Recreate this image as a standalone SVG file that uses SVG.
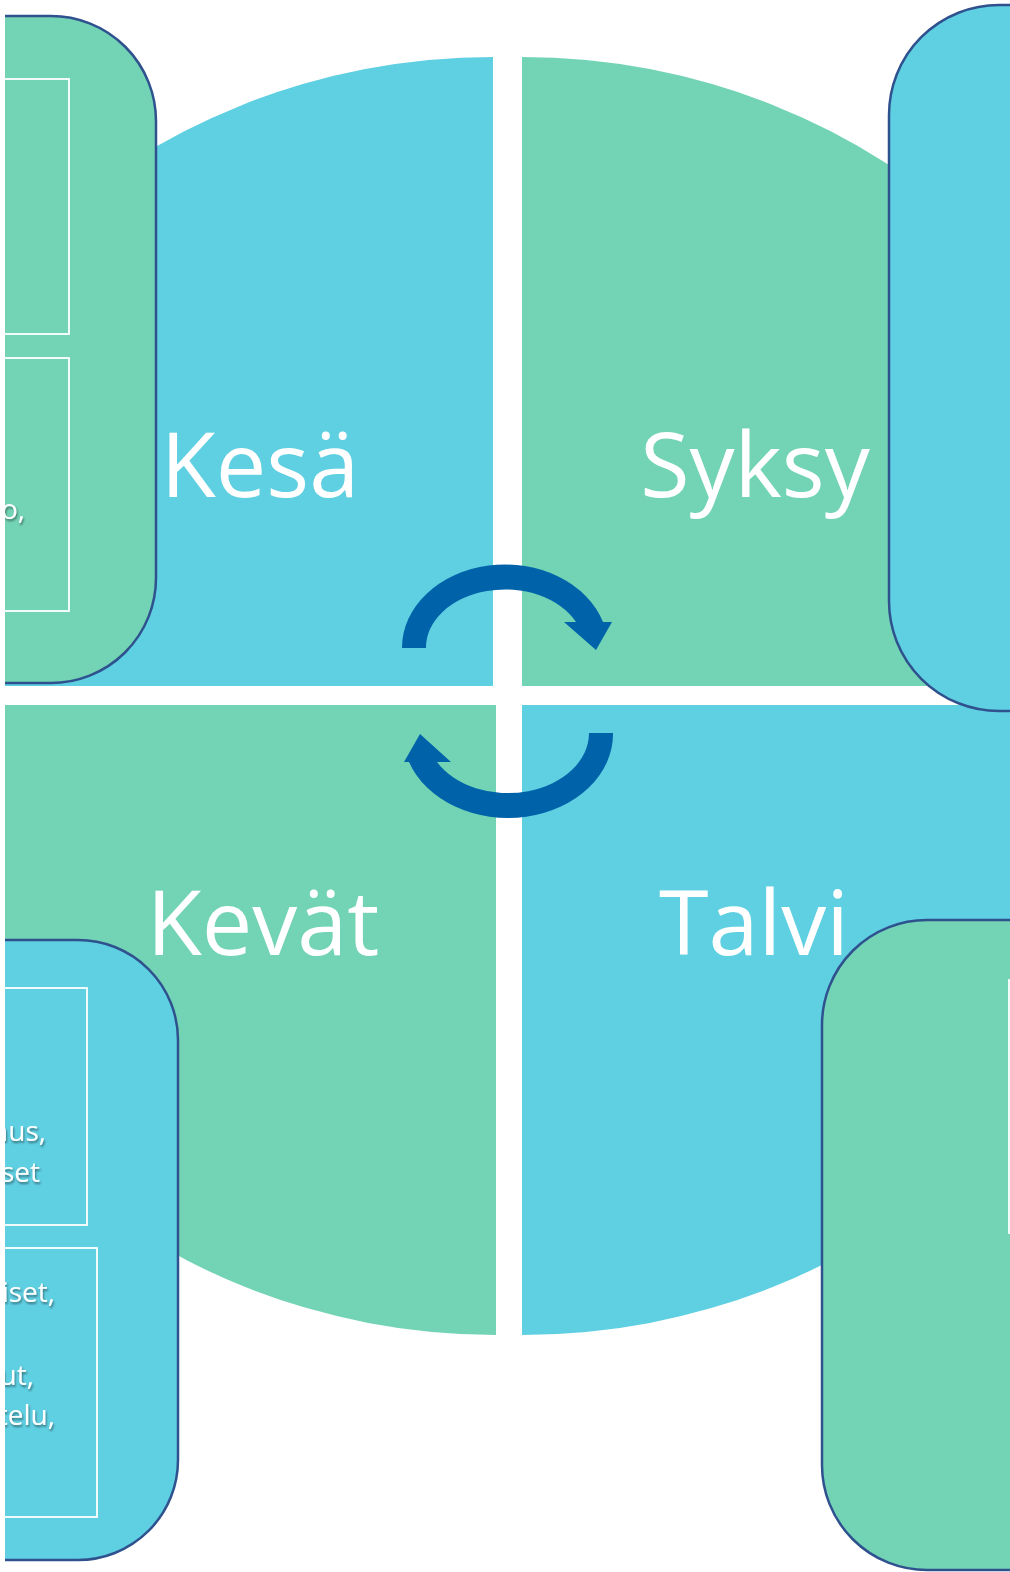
<svg xmlns="http://www.w3.org/2000/svg" width="1010" height="1572" viewBox="0 0 1010 1572">
  <defs>
    <style>
      .blue { fill: #5FCFE2; }
      .green { fill: #72D3B5; }
      .box { stroke: #2F528F; stroke-width: 2.5; }
      .inner { fill: none; stroke: #FFFFFF; stroke-width: 1.8; }
      .season { font-family: "Open Sans", "DejaVu Sans", sans-serif; font-size: 90px; fill: #FFFFFF; text-anchor: middle; }
      .small { font-family: "Open Sans", "DejaVu Sans", sans-serif; font-size: 28px; fill: #FFFFFF; text-anchor: end; filter: url(#shadow); }
      .arrow { fill: #0062A9; }
    </style>
    <filter id="shadow" x="-20%" y="-20%" width="140%" height="160%">
      <feDropShadow dx="1" dy="2" stdDeviation="1" flood-color="#000000" flood-opacity="0.45"/>
    </filter>
  </defs>
  <rect x="0" y="0" width="1010" height="1572" fill="#FFFFFF"/>

  <g id="quadrants">
    <path id="q-kesa" class="blue" d="M493,686 L493,57 A655 629 0 0 0 -162,686 Z"/>
    <path id="q-syksy" class="green" d="M522,686 L522,57 A655 629 0 0 1 1177,686 Z"/>
    <path id="q-kevat" class="green" d="M496,705 L496,1335 A655 630 0 0 1 -159,705 Z"/>
    <path id="q-talvi" class="blue" d="M522,705 L1177,705 A655 630 0 0 1 522,1335 Z"/>
  </g>

  <g id="labels">
    <text class="season" x="260" y="497">Kesä</text>
    <text class="season" x="755" y="497">Syksy</text>
    <text class="season" x="263" y="955">Kevät</text>
    <text class="season" x="754" y="955">Talvi</text>
  </g>

  <g id="connectors">
    <path class="arrow" d="M402,648 A103 83 0 0 1 603,622 L612,622 L596,650 L564,622 L576,622 A79 58 0 0 0 426,648 Z"/>
    <path class="arrow" d="M613,733 A105 84 0 0 1 409,762 L404,762 L420,734 L451,762 L437,762 A81 60 0 0 0 589,733 Z"/>
  </g>

  <g id="box-kesa">
    <rect class="green box" x="-200" y="16" width="356" height="667" rx="105" ry="105"/>
    <rect class="inner" x="-50" y="79" width="119" height="255"/>
    <rect class="inner" x="-50" y="358" width="119" height="253"/>
    <text class="small" x="25" y="519">o,</text>
  </g>

  <g id="box-kevat">
    <rect class="blue box" x="-200" y="940" width="378" height="620" rx="100" ry="100"/>
    <rect class="inner" x="-50" y="988" width="137" height="237"/>
    <rect class="inner" x="-50" y="1248" width="147" height="269"/>
    <text class="small" x="46" y="1141">nus,</text>
    <text class="small" x="40" y="1182">set</text>
    <text class="small" x="55" y="1302">iset,</text>
    <text class="small" x="34" y="1385">ut,</text>
    <text class="small" x="55" y="1425">telu,</text>
  </g>

  <g id="box-syksy">
    <rect class="blue box" x="889" y="5" width="400" height="706" rx="110" ry="110"/>
  </g>

  <g id="box-talvi">
    <rect class="green box" x="822" y="920" width="400" height="650" rx="105" ry="105"/>
    <rect class="inner" x="1009" y="980" width="100" height="253"/>
  </g>

  <rect x="0" y="0" width="5" height="1572" fill="#FFFFFF"/>
</svg>
